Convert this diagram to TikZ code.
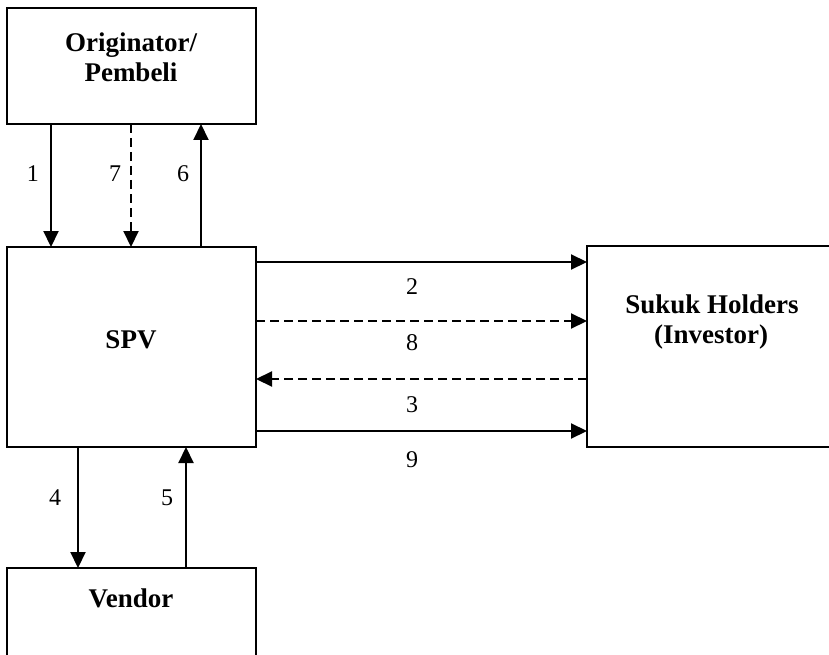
\documentclass[tikz,border=0pt]{standalone}
\usepackage{fontspec}
\setmainfont{Liberation Serif}
\usetikzlibrary{arrows.meta}
\begin{document}
\begin{tikzpicture}[x=1pt,y=-1pt,
  box/.style={draw, line width=2.1pt, inner sep=0pt, outer sep=0pt},
  title/.style={font=\fontsize{27}{27}\selectfont\bfseries, anchor=base, inner sep=0pt},
  num/.style={font=\fontsize{24}{24}\selectfont, inner sep=0pt},
  conn/.style={line width=2.1pt, -{Triangle[length=16pt,width=15pt]}},
  dashconn/.style={conn, dash pattern=on 9pt off 5pt},
]
\clip (0,0) rectangle (829,655);
\fill[white] (0,0) rectangle (829,655);
% boxes
\node[box, minimum width=249pt, minimum height=116pt] (orig) at (131.5,66) {};
\node[box, minimum width=249pt, minimum height=200pt] (spv) at (131.5,347) {};
\node[box, minimum width=260pt, minimum height=201pt] (inv) at (717,346.5) {};
\node[box, minimum width=249pt, minimum height=140pt] (vend) at (131.5,638) {};
% titles
\node[title] (tOrig1) at (131,52) {Originator/};
\node[title] (tOrig2) at (131,82) {Pembeli};
\node[title] (tSpv) at (131,348) {SPV};
\node[title] (tInv1) at (712,313) {Sukuk Holders};
\node[title] (tInv2) at (711,343) {(Investor)};
\node[title] (tVend) at (131,607) {Vendor};
% x positions of vertical connectors
\coordinate (x1) at (51,0);
\coordinate (x7) at (131,0);
\coordinate (x6) at (201,0);
\coordinate (x4) at (78,0);
\coordinate (x5) at (186,0);
% y positions of horizontal connectors
\coordinate (y2) at (0,262);
\coordinate (y8) at (0,321);
\coordinate (y3) at (0,379);
\coordinate (y9) at (0,431);
% vertical connectors
\draw[conn] (x1 |- orig.south) -- (x1 |- spv.north);
\draw[dashconn] (x7 |- orig.south) -- (x7 |- spv.north);
\draw[conn] (x6 |- spv.north) -- (x6 |- orig.south);
\draw[conn] (x4 |- spv.south) -- (x4 |- vend.north);
\draw[conn] (x5 |- vend.north) -- (x5 |- spv.south);
% horizontal connectors
\draw[conn] (spv.east |- y2) -- (inv.west |- y2);
\draw[dashconn] (spv.east |- y8) -- (inv.west |- y8);
\draw[dashconn] (inv.west |- y3) -- (spv.east |- y3);
\draw[conn] (spv.east |- y9) -- (inv.west |- y9);
% labels
\node[num] (l1) at (33,174) {1};
\node[num] (l7) at (115,174) {7};
\node[num] (l6) at (183,174) {6};
\node[num] (l2) at (412,287) {2};
\node[num] (l8) at (412,343) {8};
\node[num] (l3) at (412,405) {3};
\node[num] (l9) at (412,460) {9};
\node[num] (l4) at (55,498) {4};
\node[num] (l5) at (167,498) {5};
\end{tikzpicture}
\end{document}
